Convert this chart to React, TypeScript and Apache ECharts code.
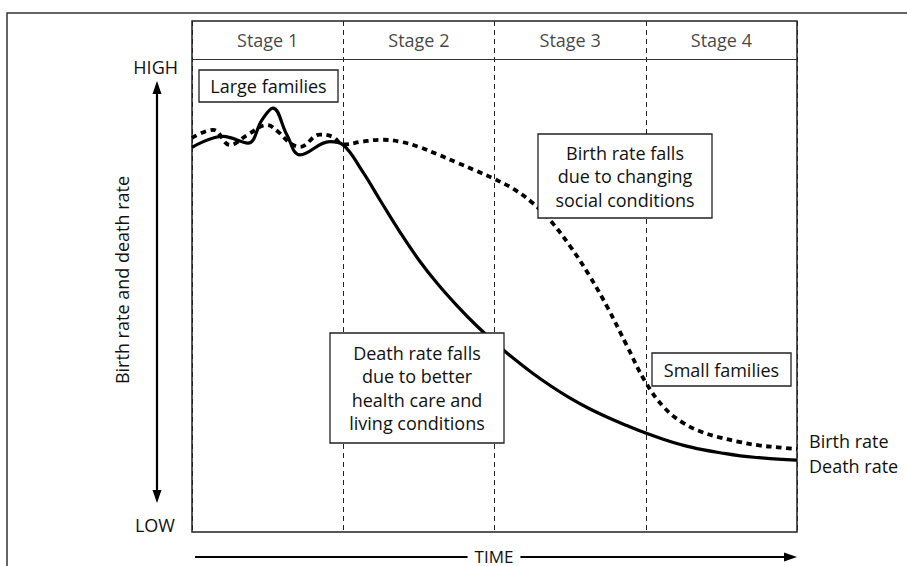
import React, { useEffect, useRef } from "react";
import * as echarts from "echarts";

const STAGES = ["Stage 1", "Stage 2", "Stage 3", "Stage 4"];
const STAGE_CENTERS = [0.5, 1.5, 2.5, 3.5];

// x in stage units (0..4), y in relative rate units (0 = LOW, 100 = HIGH)
const deathRate: [number, number][] = [
  [0, 81.3], [0.205, 83.6], [0.37, 82.2], [0.463, 87.1], [0.535, 89.6], [0.628, 83.9],
  [0.714, 79.7], [0.912, 82.5], [1.0, 81.8], [1.125, 76.3], [1.25, 69.8], [1.375, 63.4],
  [1.5, 57.5], [1.625, 52.4], [1.75, 47.9], [1.875, 43.8], [2.0, 40.1], [2.125, 36.7],
  [2.25, 33.6], [2.375, 30.8], [2.5, 28.3], [2.625, 26.1], [2.75, 24.2], [2.875, 22.5],
  [3.0, 20.9], [3.125, 19.5], [3.25, 18.3], [3.375, 17.4], [3.5, 16.7], [3.625, 16.1],
  [3.75, 15.7], [3.875, 15.4], [4.0, 15.2],
];

const birthRate: [number, number][] = [
  [0, 83.3], [0.139, 85.0], [0.251, 81.8], [0.37, 84.0], [0.496, 86.0], [0.569, 84.6],
  [0.648, 82.2], [0.714, 81.4], [0.846, 84.0], [0.932, 83.5], [1.0, 81.9], [1.125, 82.5],
  [1.25, 82.9], [1.375, 82.5], [1.5, 81.4], [1.625, 79.8], [1.75, 78.1], [1.875, 76.4],
  [2.0, 74.6], [2.125, 72.5], [2.25, 69.6], [2.375, 65.6], [2.5, 60.4], [2.625, 54.3],
  [2.75, 47.3], [2.875, 39.4], [3.0, 31.6], [3.125, 26.2], [3.25, 23.0], [3.375, 21.1],
  [3.5, 19.9], [3.625, 19.0], [3.75, 18.3], [3.875, 17.9], [4.0, 17.5],
];

const FONT = '"Open Sans", "Noto Sans", sans-serif';
const INK = "#111";

function textStyle(text: string, extra: any = {}) {
  return {
    text,
    fill: INK,
    fontFamily: FONT,
    fontSize: 18,
    align: "center",
    verticalAlign: "middle",
    ...extra,
  };
}

function box(x: number, y: number, w: number, h: number, text: string, lh = 23.5) {
  return {
    type: "group",
    z: 100,
    children: [
      {
        type: "rect",
        shape: { x, y, width: w, height: h },
        style: { fill: "#fff", stroke: "#222", lineWidth: 1.3 },
        z: 100,
      },
      {
        type: "text",
        x: x + w / 2,
        y: y + h / 2,
        z: 101,
        style: textStyle(text, { lineHeight: lh }),
      },
    ],
  };
}

export default function App() {
  const ref = useRef<HTMLDivElement>(null);

  useEffect(() => {
    if (!ref.current) return;
    const chart = echarts.init(ref.current, null, { renderer: "svg" });
    chart.setOption({
      animation: false,
      backgroundColor: "#fff",
      grid: {
        left: 192,
        right: 110,
        top: 21,
        bottom: 34,
        show: true,
        borderColor: "#222",
        borderWidth: 1.5,
        backgroundColor: "transparent",
      },
      xAxis: {
        type: "value",
        min: 0,
        max: 4,
        interval: 1,
        axisLine: { show: false },
        axisTick: { show: false },
        axisLabel: { show: false },
        splitLine: { show: true, lineStyle: { color: "#222", type: [5, 4], width: 1 } },
      },
      yAxis: {
        type: "value",
        min: 0,
        max: 108,
        axisLine: { show: false },
        axisTick: { show: false },
        axisLabel: { show: false },
        splitLine: { show: false },
      },
      series: [
        {
          name: "Death rate",
          type: "line",
          data: deathRate,
          smooth: 0.4,
          showSymbol: false,
          lineStyle: { color: "#000", width: 3.2 },
          z: 3,
          endLabel: {
            show: true,
            formatter: "{a}",
            distance: 12,
            offset: [0, 6],
            fontFamily: FONT,
            fontSize: 18,
            color: INK,
          },
          markLine: {
            silent: true,
            symbol: "none",
            label: { show: false },
            lineStyle: { color: "#333", type: "solid", width: 1.2 },
            data: [{ yAxis: 100 }],
          },
        },
        {
          name: "Birth rate",
          type: "line",
          data: birthRate,
          smooth: 0.4,
          showSymbol: false,
          lineStyle: { color: "#000", width: 3.8, type: [5.5, 4.5] },
          z: 4,
          endLabel: {
            show: true,
            formatter: "{a}",
            distance: 12,
            offset: [0, -8],
            fontFamily: FONT,
            fontSize: 18,
            color: INK,
          },
        },
        {
          name: "stages",
          type: "scatter",
          symbolSize: 0,
          silent: true,
          data: STAGES.map((s, i) => ({ name: s, value: [STAGE_CENTERS[i], 104] })),
          label: {
            show: true,
            position: "inside",
            formatter: "{b}",
            fontFamily: FONT,
            fontSize: 18,
            color: INK,
          },
        },
      ],
      graphic: [
        {
          type: "polyline",
          shape: { points: [[7, 566], [7, 13], [907, 13]] },
          style: { stroke: "#333", lineWidth: 1.5, fill: "none" },
        },
        { type: "text", x: 178, y: 67, style: textStyle("HIGH", { align: "right" }) },
        { type: "text", x: 175, y: 525, style: textStyle("LOW", { align: "right" }) },
        {
          type: "line",
          shape: { x1: 157, y1: 90, x2: 157, y2: 494 },
          style: { stroke: "#000", lineWidth: 2.2 },
        },
        {
          type: "polygon",
          shape: { points: [[157, 81], [152.5, 94], [161.5, 94]] },
          style: { fill: "#000" },
        },
        {
          type: "polygon",
          shape: { points: [[157, 503], [152.5, 490], [161.5, 490]] },
          style: { fill: "#000" },
        },
        {
          type: "text",
          x: 122,
          y: 280,
          rotation: Math.PI / 2,
          style: textStyle("Birth rate and death rate"),
        },
        {
          type: "line",
          shape: { x1: 195, y1: 557, x2: 788, y2: 557 },
          style: { stroke: "#000", lineWidth: 2.2 },
        },
        {
          type: "polygon",
          shape: { points: [[797, 557], [784, 552.5], [784, 561.5]] },
          style: { fill: "#000" },
        },
        {
          type: "text",
          x: 494,
          y: 556,
          z: 10,
          style: textStyle("TIME", {
            fontSize: 17,
            lineHeight: 17,
            backgroundColor: "#fff",
            padding: [0, 7],
          }),
        },
        box(199, 70, 139, 32, "Large families"),
        box(538, 134, 174, 84, "Birth rate falls\ndue to changing\nsocial conditions"),
        box(652, 353, 139, 33, "Small families"),
        box(330, 333, 174, 110, "Death rate falls\ndue to better\nhealth care and\nliving conditions", 23.3),
      ],
    });
    return () => chart.dispose();
  }, []);

  return (
    <div
      ref={ref}
      style={{ position: "fixed", left: 0, top: 0, width: 907, height: 566, background: "#fff" }}
    />
  );
}
